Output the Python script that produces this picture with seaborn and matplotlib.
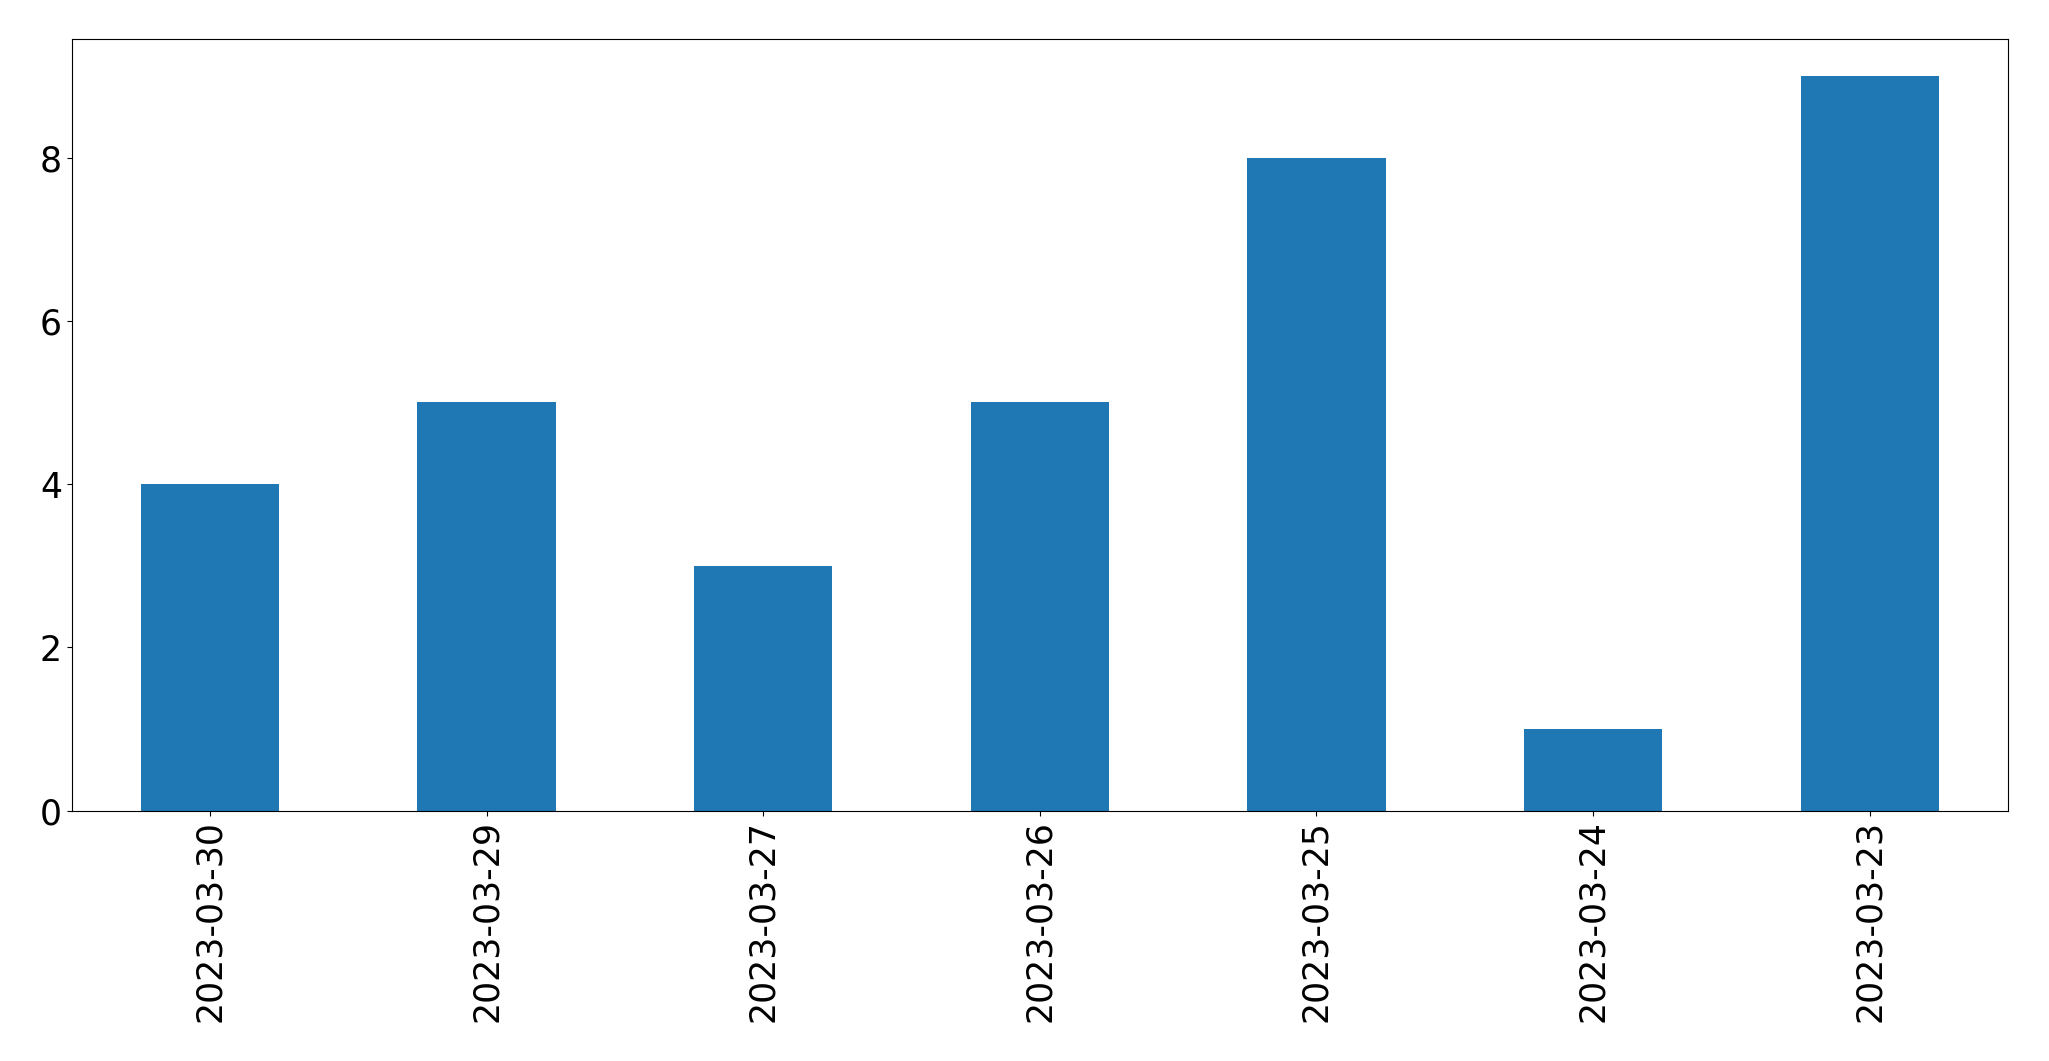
import matplotlib
matplotlib.use("Agg")
import matplotlib.pyplot as plt
import seaborn as sns
import pandas as pd

dates = ["2023-03-30", "2023-03-29", "2023-03-27", "2023-03-26",
         "2023-03-25", "2023-03-24", "2023-03-23"]
counts = [4, 5, 3, 5, 8, 1, 9]

df = pd.DataFrame({"date": dates, "count": counts})

fontsize = 25
plt.rcParams.update({"xtick.labelsize": fontsize, "ytick.labelsize": fontsize})

fig = plt.figure(figsize=(20.49, 10.61), dpi=100)
ax = fig.add_axes([0.035, 0.236, 0.945, 0.727])
sns.barplot(data=df, x="date", y="count", order=dates, color="#1f77b4",
            saturation=1, width=0.5, ax=ax)
ax.set_xlabel("")
ax.set_ylabel("")
ax.set_xlim(-0.5, len(dates) - 0.5)
plt.xticks(rotation=90)
plt.savefig("out.png", dpi=100)
